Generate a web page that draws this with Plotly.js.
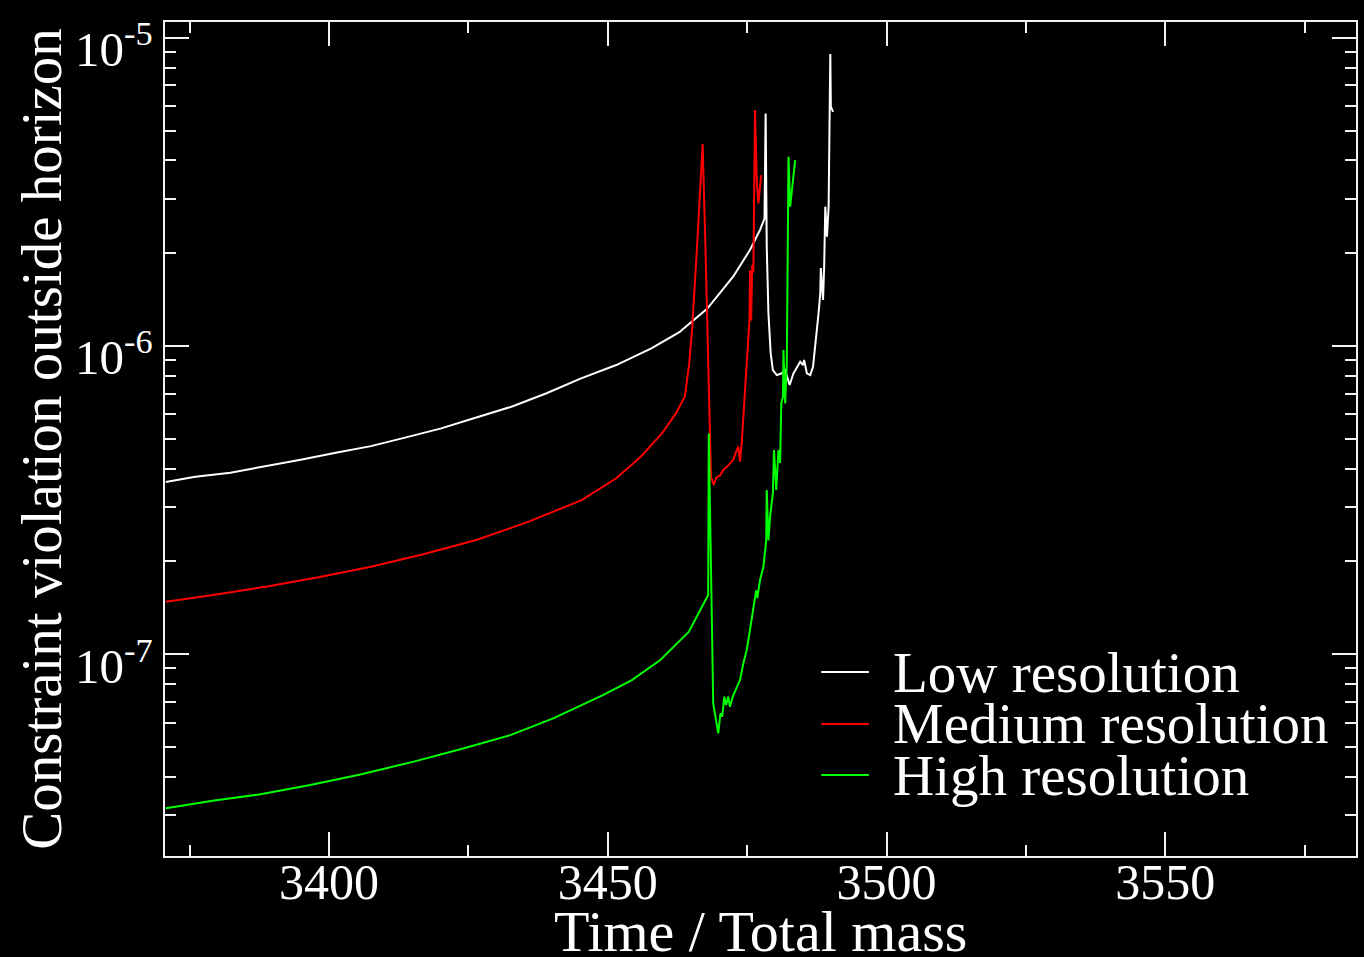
<!DOCTYPE html>
<html>
<head>
<meta charset="utf-8">
<script src="https://cdn.plot.ly/plotly-3.0.1.min.js"></script>
<style>
  html, body { margin: 0; padding: 0; background: #000; }
  #chart { width: 1364px; height: 957px; }
</style>
</head>
<body>
<div id="chart"></div>
<script>
// ---- Data ----
const seriesNames = ["Low resolution", "Medium resolution", "High resolution"];
const seriesColors = ["#ffffff", "#ff0000", "#00ff00"];

const lowT = [3370.7, 3376.0, 3382.3, 3388.6, 3394.9, 3401.2, 3407.5, 3413.8, 3420.1, 3426.4, 3432.7, 3439.0, 3445.2, 3451.5, 3457.8, 3462.9, 3463.6, 3467.8, 3472.5, 3475.5, 3477.3, 3478.1, 3478.3, 3478.5, 3478.8, 3479.2, 3479.6, 3480.3, 3481.2, 3481.8, 3482.6, 3483.3, 3483.9, 3484.5, 3485.0, 3485.2, 3485.7, 3486.3, 3486.8, 3487.2, 3487.8, 3488.1, 3488.2, 3488.6, 3488.8, 3489.0, 3489.3, 3489.6, 3489.9, 3490.0, 3490.4];
const lowV = [3.62e-7, 3.76e-7, 3.88e-7, 4.06e-7, 4.27e-7, 4.50e-7, 4.73e-7, 5.05e-7, 5.40e-7, 5.86e-7, 6.35e-7, 7.02e-7, 7.85e-7, 8.67e-7, 9.82e-7, 1.11e-6, 1.14e-6, 1.32e-6, 1.68e-6, 2.05e-6, 2.38e-6, 2.59e-6, 5.68e-6, 2.10e-6, 1.28e-6, 9.5e-7, 8.35e-7, 8.04e-7, 8.15e-7, 8.35e-7, 7.47e-7, 8.15e-7, 8.56e-7, 8.89e-7, 8.67e-7, 9.0e-7, 8.15e-7, 8.04e-7, 8.56e-7, 9.94e-7, 1.28e-6, 1.48e-6, 1.79e-6, 1.41e-6, 1.81e-6, 2.83e-6, 2.26e-6, 2.83e-6, 8.85e-6, 5.97e-6, 5.75e-6];

const medT = [3370.7, 3379.2, 3388.6, 3398.1, 3407.5, 3416.9, 3426.4, 3435.8, 3445.3, 3451.5, 3455.9, 3459.7, 3462.2, 3463.8, 3464.6, 3465.1, 3466.0, 3466.6, 3467.0, 3467.5, 3467.9, 3468.2, 3468.5, 3469.0, 3469.4, 3470.2, 3470.7, 3471.4, 3471.9, 3472.5, 3473.0, 3473.4, 3473.7, 3474.0, 3474.5, 3474.9, 3475.4, 3475.5, 3475.7, 3475.9, 3476.1, 3476.4, 3476.7, 3477.0, 3477.5];
const medV = [1.48e-7, 1.555e-7, 1.655e-7, 1.775e-7, 1.92e-7, 2.11e-7, 2.345e-7, 2.69e-7, 3.16e-7, 3.72e-7, 4.37e-7, 5.20e-7, 6.04e-7, 6.84e-7, 8.78e-7, 1.13e-6, 2.10e-6, 3.45e-6, 4.52e-6, 2.10e-6, 9.94e-7, 5.2e-7, 3.76e-7, 3.54e-7, 3.73e-7, 3.81e-7, 3.96e-7, 4.06e-7, 4.17e-7, 4.27e-7, 4.53e-7, 4.71e-7, 4.21e-7, 4.83e-7, 6.68e-7, 8.56e-7, 1.21e-6, 1.76e-6, 1.21e-6, 1.83e-6, 1.73e-6, 5.83e-6, 3.45e-6, 2.90e-6, 3.58e-6];

const highT = [3370.7, 3379.4, 3387.7, 3396.6, 3405.6, 3415.2, 3424.2, 3432.5, 3440.2, 3449.2, 3454.3, 3459.4, 3464.5, 3468.0, 3468.1, 3468.4, 3468.7, 3468.9, 3469.4, 3469.8, 3470.2, 3470.5, 3470.9, 3471.2, 3471.6, 3471.9, 3472.4, 3473.1, 3473.7, 3474.3, 3474.9, 3475.5, 3476.2, 3476.6, 3476.8, 3477.3, 3477.9, 3478.4, 3478.5, 3478.8, 3479.1, 3479.6, 3479.8, 3480.2, 3480.6, 3480.9, 3481.1, 3481.4, 3481.5, 3481.8, 3482.1, 3482.4, 3482.7, 3483.6];
const highV = [3.16e-8, 3.35e-8, 3.51e-8, 3.76e-8, 4.07e-8, 4.48e-8, 4.95e-8, 5.46e-8, 6.19e-8, 7.37e-8, 8.24e-8, 9.57e-8, 1.18e-7, 1.556e-7, 5.20e-7, 2.18e-7, 1.03e-7, 6.92e-8, 6.11e-8, 5.53e-8, 6.43e-8, 6.27e-8, 7.28e-8, 6.84e-8, 7.28e-8, 6.75e-8, 7.28e-8, 7.83e-8, 8.24e-8, 9.33e-8, 1.03e-7, 1.20e-7, 1.43e-7, 1.61e-7, 1.52e-7, 1.74e-7, 1.92e-7, 2.34e-7, 3.41e-7, 2.34e-7, 2.79e-7, 3.33e-7, 4.59e-7, 3.41e-7, 4.59e-7, 4.17e-7, 6.51e-7, 6.84e-7, 9.7e-7, 6.51e-7, 8.8e-7, 4.11e-6, 2.83e-6, 4.01e-6];

const yTickVals = [1e-7, 1e-6, 1e-5];
const yTickText = ["10<sup>-7</sup>", "10<sup>-6</sup>", "10<sup>-5</sup>"];
const xTitle = "Time / Total mass";
const yTitle = "Constraint violation outside horizon";

// ---- Build chart ----
const FONT = "Liberation Serif, Times New Roman, serif";
const AXC = "#f2f2f2";

const minorY = [];
for (let d = -8; d <= -5; d++) for (let k = 2; k <= 9; k++) minorY.push(k * Math.pow(10, d));

const traces = [
  {x: lowT, y: lowV},
  {x: medT, y: medV},
  {x: highT, y: highV}
].map((s, i) => ({
  x: s.x, y: s.y, type: "scatter", mode: "lines", name: seriesNames[i],
  line: {color: seriesColors[i], width: 2}, showlegend: false
}));

// legend drawn as annotations + short line samples (paper coords)
const legY = [0.2206, 0.1583, 0.0971];
const shapes = legY.map((y, i) => ({
  type: "line", xref: "paper", yref: "paper", x0: 0.551, x1: 0.591, y0: y, y1: y,
  line: {color: seriesColors[i], width: 2}
}));
const annotations = legY.map((y, i) => ({
  xref: "paper", yref: "paper", x: 0.6097, y: y, xanchor: "left", yanchor: "middle",
  text: seriesNames[i], showarrow: false, font: {family: FONT, size: 57, color: "#ffffff"}
}));
// y tick labels (log axis: annotation y in log10 units)
yTickVals.forEach((v, i) => annotations.push({
  xref: "paper", yref: "y", x: -0.008, y: Math.log10(v), xanchor: "right", yanchor: "middle",
  yshift: -8, text: yTickText[i], showarrow: false,
  font: {family: FONT, size: 49, color: "#ffffff"}
}));
// x axis title (placed low, partly past the bottom edge as in the reference)
annotations.push({
  xref: "paper", yref: "paper", x: 0.5, y: -0.0904, xanchor: "center", yanchor: "middle",
  text: xTitle, showarrow: false, font: {family: FONT, size: 58, color: "#ffffff"}
});

const layout = {
  width: 1364, height: 957,
  paper_bgcolor: "#000000", plot_bgcolor: "#000000",
  margin: {l: 165, r: 8, t: 22, b: 101},
  font: {family: FONT, color: "#ffffff"},
  showlegend: false,
  xaxis: {
    range: [3370.56, 3584.2], tick0: 3400, dtick: 50,
    showgrid: false, zeroline: false,
    showline: true, linecolor: AXC, linewidth: 2, mirror: "allticks",
    ticks: "inside", ticklen: 24, tickwidth: 2, tickcolor: AXC,
    minor: {dtick: 25, tick0: 3375, ticks: "inside", ticklen: 11, tickwidth: 2, tickcolor: AXC, showgrid: false},
    tickfont: {family: FONT, size: 50, color: "#ffffff"},
    ticklabelstandoff: -19
  },
  yaxis: {
    type: "log", range: [-7.655, -4.949],
    tickmode: "array", tickvals: yTickVals, showticklabels: false,
    showgrid: false, zeroline: false,
    showline: true, linecolor: AXC, linewidth: 2, mirror: "allticks",
    ticks: "inside", ticklen: 24, tickwidth: 2, tickcolor: AXC,
    minor: {tickmode: "array", tickvals: minorY, ticks: "inside", ticklen: 11, tickwidth: 2, tickcolor: AXC, showgrid: false},
    title: {text: yTitle, font: {family: FONT, size: 57, color: "#ffffff"}, standoff: 83}
  },
  shapes: shapes,
  annotations: annotations
};

Plotly.newPlot("chart", traces, layout, {displayModeBar: false, staticPlot: true});
</script>
</body>
</html>
